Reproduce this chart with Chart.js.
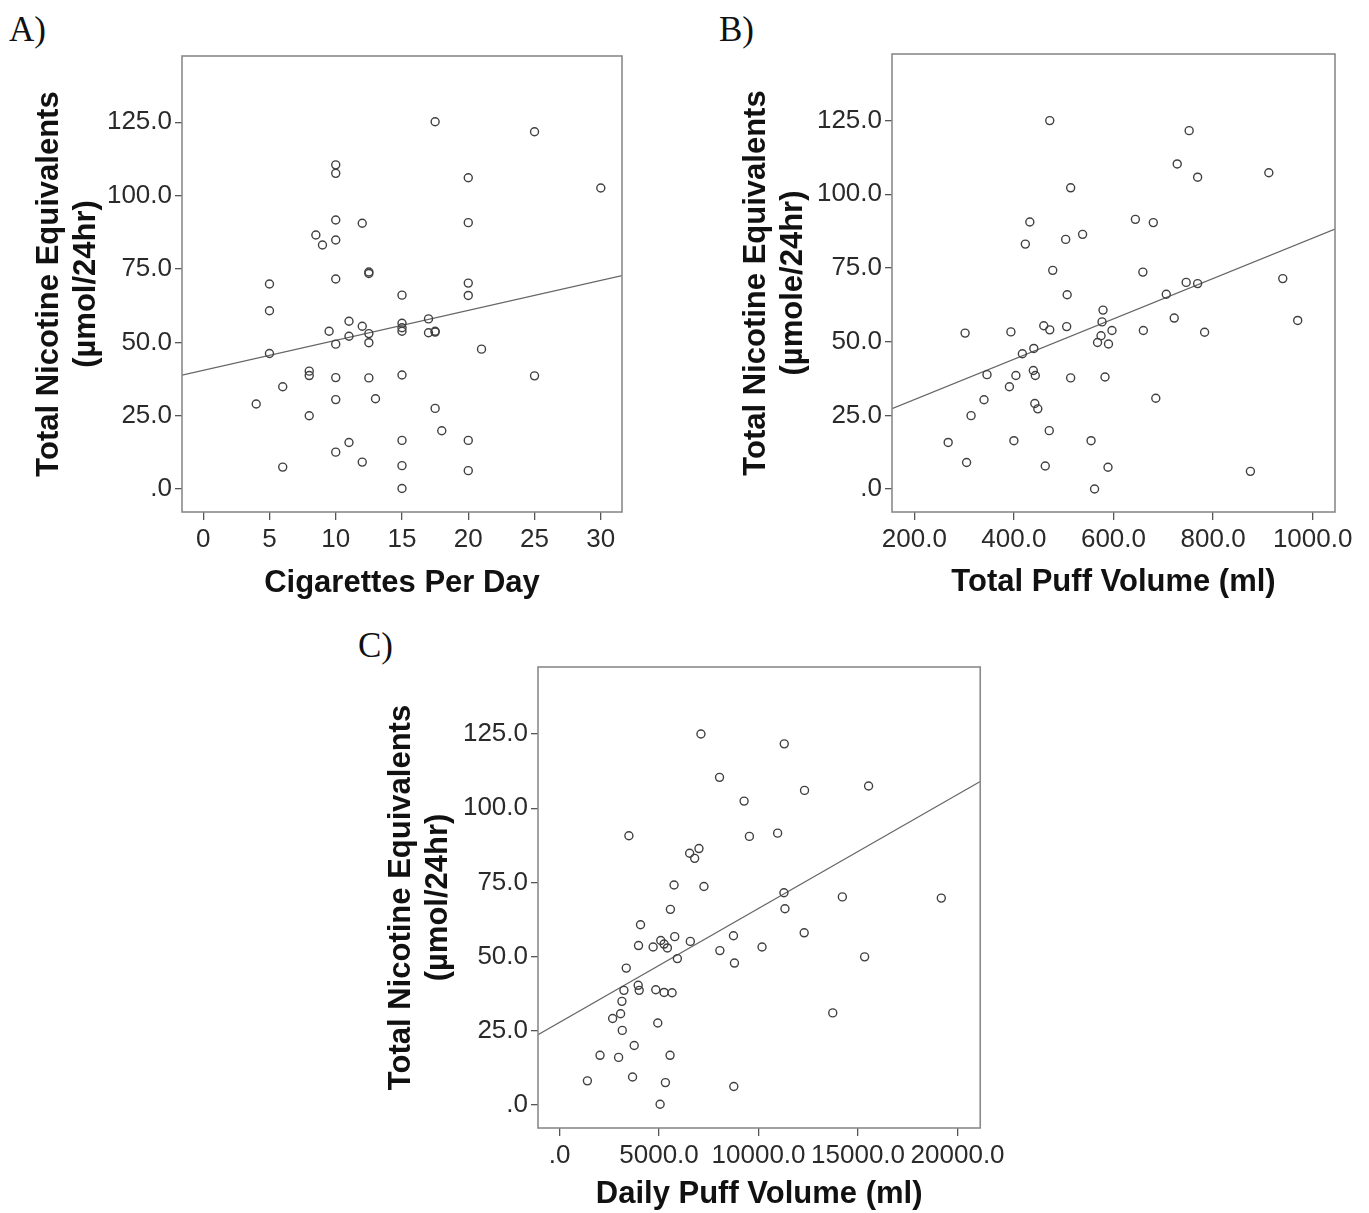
<!DOCTYPE html>
<html>
<head>
<meta charset="utf-8">
<script src="https://cdn.jsdelivr.net/npm/chart.js@4.4.1/dist/chart.umd.min.js"></script>
<style>
  html, body { margin: 0; padding: 0; background: #fff; }
  body { position: relative; width: 1369px; height: 1213px; overflow: hidden; }
  .panel { position: absolute; }
  .tag { position: absolute; font-family: 'Liberation Serif', 'DejaVu Serif', serif; font-size: 35px; line-height: 35px; color: #111; }
</style>
</head>
<body>
<div class="tag" style="left:9px; top:12px;">A)</div>
<div class="tag" style="left:719px; top:12px;">B)</div>
<div class="tag" style="left:358px; top:628px;">C)</div>

<div class="panel" style="left:0; top:0; width:680px; height:610px;"><canvas id="chartA" width="680" height="610"></canvas></div>
<div class="panel" style="left:680px; top:0; width:689px; height:610px;"><canvas id="chartB" width="689" height="610"></canvas></div>
<div class="panel" style="left:350px; top:620px; width:660px; height:593px;"><canvas id="chartC" width="660" height="593"></canvas></div>

<script>
// Total nicotine equivalents (y) - shared tick labels
const yTicks = [0, 25, 50, 75, 100, 125];

// A) cigarettes per day
const cigsA = [17.5, 25, 10, 10, 20, 30, 10, 12, 20, 8.5, 9, 10, 12.5, 12.5, 5, 10, 20, 15, 20, 5,
  17, 11, 12, 15, 15, 15, 9.5, 12.5, 11, 17, 17.5, 17.5, 10, 12.5, 5, 21, 8, 8, 10, 12.5,
  15, 25, 6, 4, 10, 13, 17.5, 8, 18, 11, 15, 20, 10, 12, 6, 15, 20, 15];
const tneA = [125.2, 121.8, 110.5, 107.6, 106.1, 102.6, 91.7, 90.6, 90.8, 86.6, 83.2, 84.9, 74.0, 73.5, 69.9, 71.6, 70.2, 66.1, 66.0, 60.8,
  58.0, 57.2, 55.5, 56.5, 55.0, 53.8, 53.8, 53.0, 52.1, 53.3, 53.8, 53.5, 49.4, 49.9, 46.2, 47.7, 40.2, 38.7, 38.0, 37.9,
  38.9, 38.6, 34.9, 29.0, 30.5, 30.8, 27.5, 25.0, 19.9, 15.9, 16.6, 16.6, 12.6, 9.2, 7.5, 8.0, 6.3, 0.2];
const xTicksA = [0, 5, 10, 15, 20, 25, 30];
const fitA = [40.5, 1.02];

// B) total puff volume (ml)
const puffB = [472, 752, 728, 769, 912, 514, 432, 644, 680, 423, 504, 538, 478, 659, 746, 769, 940, 507, 706, 579,
  577, 722, 970, 460, 472, 506, 597, 660, 783, 302, 394, 575, 568, 590, 440, 417, 439, 443, 346, 404,
  514, 583, 391, 340, 685, 442, 448, 314, 471, 268, 400, 555, 305, 463, 589, 875, 562];
const tneB = [125.0, 121.6, 110.3, 105.8, 107.3, 102.2, 90.6, 91.5, 90.4, 83.1, 84.7, 86.4, 74.2, 73.6, 70.1, 69.7, 71.4, 65.9, 66.1, 60.7,
  56.7, 58.0, 57.2, 55.4, 54.0, 55.1, 53.8, 53.8, 53.2, 52.9, 53.3, 52.0, 49.7, 49.2, 47.7, 45.9, 40.2, 38.5, 38.8, 38.5,
  37.7, 38.0, 34.7, 30.3, 30.8, 29.0, 27.2, 24.9, 19.8, 15.8, 16.4, 16.4, 9.0, 7.8, 7.4, 6.0, 0.0];
const xTicksB = [200, 400, 600, 800, 1000];
const fitB = [16.6, 0.0685];

// C) daily puff volume (ml)
const dailyC = [7106, 11292, 8040, 12310, 15529, 9274, 3486, 9541, 10959, 6539, 7006, 6789, 5755, 7256, 11276, 14211, 19182, 5571, 11326, 4070,
  5788, 12293, 8740, 5087, 6572, 3970, 4704, 5254, 5421, 10175, 8056, 5921, 15329, 8790, 3353, 3953, 4003, 3236, 4837, 5254,
  5655, 3136, 13728, 3069, 2669, 4937, 3153, 3753, 2035, 2969, 5554, 3670, 1401, 5321, 8757, 5054];
const tneC = [125.0, 121.7, 110.4, 106.0, 107.5, 102.4, 90.7, 90.5, 91.6, 84.8, 86.4, 83.1, 74.1, 73.6, 71.5, 70.1, 69.7, 65.9, 66.1, 60.7,
  56.7, 58.0, 57.0, 55.4, 55.1, 53.7, 53.2, 54.2, 52.9, 53.2, 52.0, 49.3, 49.9, 47.8, 46.1, 40.3, 38.6, 38.6, 38.8, 37.9,
  37.8, 34.9, 31.0, 30.7, 29.1, 27.6, 25.1, 20.0, 16.7, 16.0, 16.7, 9.4, 8.1, 7.5, 6.2, 0.2];
const xTicksC = [0, 5000, 10000, 15000, 20000];
const fitC = [27.8, 0.00384];

const Y_MIN = -7.8, Y_MAX = 147.6;
const tickFont = { family: "'Liberation Sans', Arial, sans-serif", size: 26 };
const titleFont = { family: "'Liberation Sans', Arial, sans-serif", size: 31, weight: 'bold', lineHeight: '37px' };

// grey frame round the plot area (SPSS style)
const framePlugin = {
    id: 'frame',
    afterDraw(chart) {
        const a = chart.chartArea;
        const ctx = chart.ctx;
        ctx.save();
        ctx.strokeStyle = '#8a8a8a';
        ctx.lineWidth = 1.6;
        ctx.strokeRect(a.left, a.top, a.right - a.left, a.bottom - a.top);
        ctx.restore();
    }
};

function fmt(v) {
    return v === 0 ? '.0' : v.toFixed(1);
}

function makeChart(id, cfg) {
    const points = cfg.xs.map((x, i) => ({ x: x, y: cfg.ys[i] }));
    const line = [cfg.xMin, cfg.xMax].map(x => ({ x: x, y: cfg.fit[0] + cfg.fit[1] * x }));
    return new Chart(document.getElementById(id).getContext('2d'), {
        type: 'scatter',
        data: {
            datasets: [
                {
                    data: points,
                    pointStyle: 'circle',
                    pointRadius: 4,
                    pointBorderWidth: 1.4,
                    borderColor: '#404040',
                    backgroundColor: 'rgba(0,0,0,0)'
                },
                {
                    type: 'line',
                    data: line,
                    borderColor: '#666',
                    borderWidth: 1.2,
                    pointRadius: 0,
                    fill: false
                }
            ]
        },
        options: {
            responsive: false,
            animation: false,
            layout: { padding: { left: 0, top: cfg.padTop, right: cfg.padRight, bottom: 0 } },
            plugins: { legend: { display: false }, tooltip: { enabled: false } },
            scales: {
                x: {
                    type: 'linear',
                    min: cfg.xMin,
                    max: cfg.xMax,
                    afterBuildTicks: s => { s.ticks = cfg.xTicks.map(v => ({ value: v })); },
                    afterFit: s => { s.height = cfg.xAxisH; },
                    grid: { drawOnChartArea: false, drawTicks: true, tickLength: 8, color: '#555', lineWidth: 1.3 },
                    border: { display: false },
                    ticks: { font: tickFont, color: '#2a2a2a', padding: 4, maxRotation: 0, autoSkip: false,
                        callback: cfg.xFmt },
                    title: { display: true, text: cfg.xTitle, font: titleFont, color: '#111',
                        padding: { top: 0, bottom: cfg.xTitlePad } }
                },
                y: {
                    type: 'linear',
                    min: Y_MIN,
                    max: Y_MAX,
                    afterBuildTicks: s => { s.ticks = yTicks.map(v => ({ value: v })); },
                    afterFit: s => { s.width = cfg.yAxisW; },
                    grid: { drawOnChartArea: false, drawTicks: true, tickLength: 7, color: '#555', lineWidth: 1.3 },
                    border: { display: false },
                    ticks: { font: tickFont, color: '#2a2a2a', padding: 3, autoSkip: false, callback: fmt },
                    title: { display: true, text: cfg.yTitle, font: titleFont, color: '#111',
                        padding: { top: cfg.yTitlePad, bottom: 0 } }
                }
            }
        },
        plugins: [framePlugin]
    });
}

makeChart('chartA', {
    xs: cigsA, ys: tneA, fit: fitA, xTicks: xTicksA, xMin: -1.6, xMax: 31.6,
    xFmt: v => String(v),
    padTop: 56, padRight: 58, yAxisW: 182, xAxisH: 98, xTitlePad: 8, yTitlePad: 31,
    xTitle: 'Cigarettes Per Day',
    yTitle: ['Total Nicotine Equivalents', '(µmol/24hr)']
});

makeChart('chartB', {
    xs: puffB, ys: tneB, fit: fitB, xTicks: xTicksB, xMin: 155.2, xMax: 1044.9,
    xFmt: v => v.toFixed(1),
    padTop: 54, padRight: 34, yAxisW: 212, xAxisH: 98, xTitlePad: 9, yTitlePad: 58,
    xTitle: 'Total Puff Volume (ml)',
    yTitle: ['Total Nicotine Equivalents', '(µmole/24hr)']
});

makeChart('chartC', {
    xs: dailyC, ys: tneC, fit: fitC, xTicks: xTicksC, xMin: -1081, xMax: 21138,
    xFmt: fmt,
    padTop: 47, padRight: 28, yAxisW: 188, xAxisH: 85, xTitlePad: 0, yTitlePad: 33,
    xTitle: 'Daily Puff Volume (ml)',
    yTitle: ['Total Nicotine Equivalents', '(µmol/24hr)']
});
</script>
</body>
</html>
